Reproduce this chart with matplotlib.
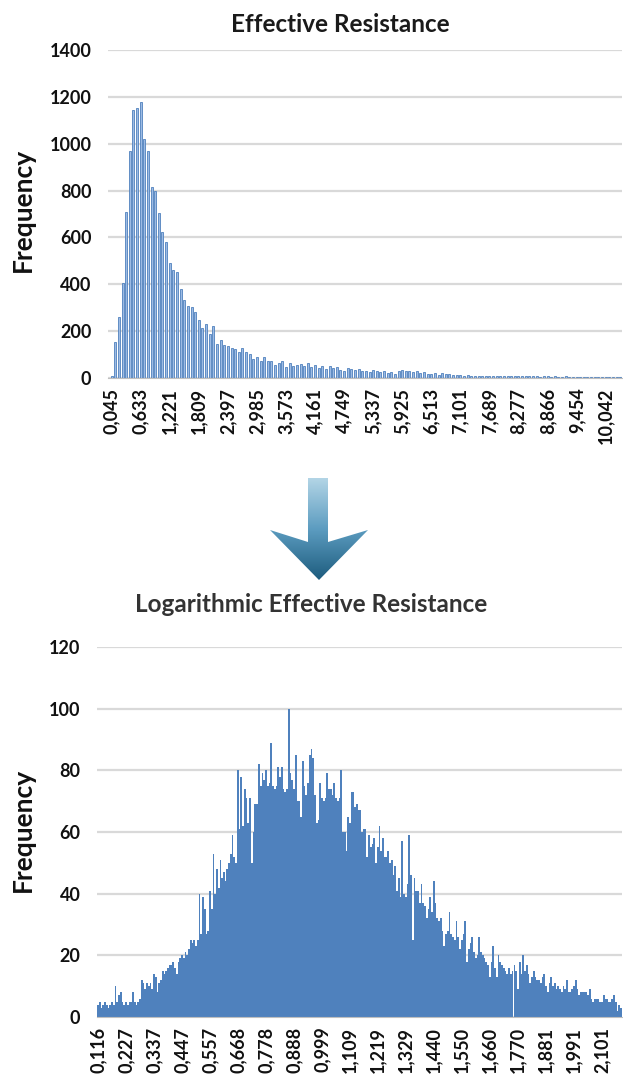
import numpy as np
import matplotlib
matplotlib.use('Agg')
from matplotlib import pyplot as plt
from matplotlib.patches import Polygon

plt.rcParams['font.family'] = ['Lato', 'DejaVu Sans']

# top histogram: effective resistance, one bin per category
top_freq = [
    10, 153, 262, 404, 707, 971, 1143, 1152, 1179, 1019,
    971, 815, 798, 706, 623, 582, 492, 460, 451, 378,
    333, 307, 302, 283, 248, 213, 230, 188, 220, 145,
    163, 142, 135, 130, 123, 113, 130, 109, 103, 81,
    89, 71, 89, 71, 71, 54, 64, 71, 47, 64,
    50, 57, 60, 52, 66, 48, 55, 44, 50, 38,
    52, 42, 45, 36, 30, 42, 38, 34, 40, 28,
    32, 26, 36, 30, 24, 28, 20, 26, 18, 32,
    34, 30, 28, 24, 30, 22, 26, 16, 18, 20,
    14, 22, 16, 18, 12, 14, 12, 10, 11, 9,
    10, 9, 8, 9, 10, 8, 9, 8, 8, 9,
    7, 8, 8, 7, 8, 7, 7, 8, 6, 7,
    7, 6, 7, 6, 6, 7, 6, 6, 5, 6,
    6, 5, 6, 5, 5, 6, 5, 5, 5, 4,
    5,
]
top_labels = ['0,045', '0,633', '1,221', '1,809', '2,397', '2,985', '3,573',
              '4,161', '4,749', '5,337', '5,925', '6,513', '7,101', '7,689',
              '8,277', '8,866', '9,454', '10,042']

# bottom histogram: logarithmic effective resistance
log_freq = [
    4, 5, 3, 4, 5, 4, 3, 4, 5, 4,
    10, 5, 7, 8, 5, 4, 5, 4, 5, 5,
    8, 5, 4, 5, 6, 12, 11, 9, 11, 10,
    11, 9, 14, 13, 8, 11, 12, 15, 14, 15,
    16, 17, 17, 18, 16, 14, 18, 19, 20, 19,
    21, 20, 22, 25, 24, 25, 23, 25, 40, 27,
    39, 35, 27, 28, 41, 35, 53, 40, 48, 42,
    51, 45, 47, 44, 48, 50, 53, 59, 52, 50,
    80, 61, 78, 62, 74, 71, 63, 71, 50, 60,
    69, 69, 82, 75, 79, 77, 80, 75, 76, 89,
    75, 74, 75, 81, 78, 81, 74, 73, 74, 100,
    79, 77, 74, 85, 70, 70, 65, 83, 75, 72,
    76, 85, 87, 84, 72, 63, 64, 76, 71, 70,
    71, 79, 74, 74, 72, 76, 71, 70, 71, 80,
    60, 60, 54, 65, 63, 73, 73, 68, 69, 67,
    67, 60, 61, 61, 52, 59, 55, 56, 58, 50,
    55, 62, 54, 58, 52, 52, 54, 50, 51, 46,
    49, 41, 45, 39, 57, 40, 39, 43, 59, 46,
    25, 45, 41, 41, 37, 43, 37, 36, 32, 35,
    39, 34, 44, 37, 32, 31, 32, 28, 23, 27,
    28, 34, 27, 26, 25, 31, 26, 22, 25, 27,
    31, 18, 22, 24, 26, 21, 19, 20, 26, 21,
    20, 19, 18, 17, 13, 18, 23, 16, 13, 20,
    18, 17, 16, 15, 14, 16, 14, 15, 17, 15,
    9, 18, 14, 20, 15, 17, 14, 11, 13, 15,
    13, 12, 12, 11, 13, 14, 10, 8, 11, 13,
    10, 11, 9, 10, 9, 8, 10, 9, 12, 8,
    8, 9, 10, 12, 9, 7, 8, 8, 8, 8,
    7, 9, 6, 5, 6, 6, 6, 5, 5, 7,
    6, 6, 5, 5, 6, 7, 5, 2, 4, 3,
]
log_labels = ['0,116', '0,227', '0,337', '0,447', '0,557', '0,668', '0,778',
              '0,888', '0,999', '1,109', '1,219', '1,329', '1,440', '1,550',
              '1,660', '1,770', '1,881', '1,991', '2,101']

W, H = 623, 1089
fig = plt.figure(figsize=(W / 100, H / 100), dpi=100)


def px_axes(left, top, right, bottom):
    return fig.add_axes([left / W, 1 - bottom / H, (right - left) / W, (bottom - top) / H])


def style(ax, ymax, step):
    ax.set_ylim(0, ymax)
    ax.set_yticks(np.arange(0, ymax + 1, step))
    ax.yaxis.grid(True, color='#d9d9d9', linewidth=1.6)
    ax.set_axisbelow(True)
    for s in ['top', 'right', 'left']:
        ax.spines[s].set_visible(False)
    ax.spines['bottom'].set_color('#bfbfbf')
    ax.tick_params(length=0)
    ax.tick_params(axis='y', pad=12, labelsize=13)
    ax.tick_params(axis='x', pad=7, labelsize=13, labelrotation=90)
    for t in ax.get_xticklabels() + ax.get_yticklabels():
        t.set_fontweight('bold')
        t.set_color('#111111')


# %% top chart
ax1 = px_axes(108, 50, 622, 378)
x1 = np.arange(len(top_freq))
ax1.bar(x1, top_freq, width=0.55, color='#9dbbe4', edgecolor='#4f81bd', linewidth=0.6)
ax1.set_xlim(-1.0, len(top_freq) - 0.5)
ax1.set_xticks(x1[::8][:len(top_labels)])
ax1.set_xticklabels(top_labels)
style(ax1, 1400, 200)

# %% bottom chart
ax2 = px_axes(97, 647, 622, 1017)
x2 = np.arange(len(log_freq))
ax2.bar(x2, log_freq, width=1.0, color='#4f81bd', linewidth=0)
ax2.set_xlim(-0.5, len(log_freq) - 0.5)
ax2.set_xticks(x2[::16][:len(log_labels)])
ax2.set_xticklabels(log_labels)
style(ax2, 120, 20)

# %% titles and labels
fig.text(340 / W, 1 - 25 / H, 'Effective Resistance', ha='center', va='center',
         fontsize=17.5, fontweight='bold', color='#1a1a1a')
fig.text(311 / W, 1 - 604 / H, 'Logarithmic Effective Resistance', ha='center', va='center',
         fontsize=17.5, fontweight='bold', color='#333333')
for yc in [210, 830]:
    fig.text(23 / W, 1 - yc / H, 'Frequency', rotation=90, ha='center', va='center',
             fontsize=19, fontweight='bold', color='#111111')

# %% arrow with gradient
ov = fig.add_axes([0, 0, 1, 1], zorder=-1)
ov.set_xlim(0, W)
ov.set_ylim(H, 0)
ov.axis('off')
pts = [(308, 478), (328, 478), (328, 542), (368, 530), (319, 580), (270, 530), (308, 542)]
arrow = Polygon(pts, closed=True, facecolor='none', edgecolor='none')
ov.add_patch(arrow)
grad = np.linspace(0, 1, 256).reshape(-1, 1)
cmap = matplotlib.colors.LinearSegmentedColormap.from_list('arr', ['#b3d5e6', '#5c9cc0', '#1d5c7e'])
im = ov.imshow(grad, cmap=cmap, extent=(268, 370, 580, 478), aspect='auto')
im.set_clip_path(arrow)

fig.savefig('out.png', dpi=100)
